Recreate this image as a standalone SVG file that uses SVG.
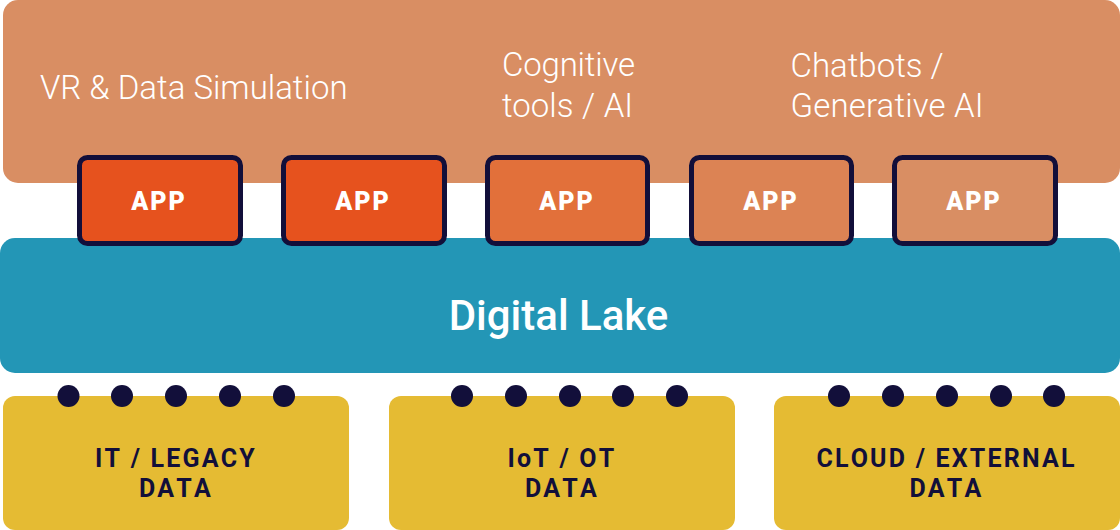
<svg xmlns="http://www.w3.org/2000/svg" width="1120" height="530" viewBox="0 0 1120 530">
<style>
.t{font-family:Roboto,"Liberation Sans",sans-serif;font-weight:300;font-size:33px;fill:#fff}
.a{stroke:#120f3a;stroke-width:5}
.at{font-family:Roboto,"Liberation Sans",sans-serif;font-weight:900;font-size:25px;letter-spacing:2px;fill:#fff;text-anchor:middle}
.s{fill:#e5bb33}
.st{font-family:Roboto,"Liberation Sans",sans-serif;font-weight:750;font-size:25px;letter-spacing:2.200px;font-kerning:none;fill:#120f3a;text-anchor:middle}
.d{fill:#120f3a}
</style>
<g id="top"><rect x="3" y="0" width="1117" height="183" rx="15" fill="#d98e63"/>
<text class="t" x="40" y="99">VR &amp; Data Simulation</text>
<text class="t" x="502" y="76" letter-spacing="-0.200">Cognitive</text><text class="t" x="502" y="116.500" word-spacing="0.500">tools / AI</text>
<text class="t" x="790.500" y="77">Chatbots /</text><text class="t" x="790.500" y="116.500" letter-spacing="0.150">Generative AI</text></g>
<g id="lake"><rect x="0" y="238" width="1120" height="135" rx="15" fill="#2396b6"/>
<text x="558.500" y="329.500" font-family="Roboto,'Liberation Sans',sans-serif" font-weight="500" font-size="42" fill="#fff" text-anchor="middle">Digital Lake</text></g>
<g id="app1"><rect class="a" x="79.500" y="157.500" width="161" height="86" rx="8" fill="#e6521e"/><text class="at" x="159" y="209.500">APP</text></g>
<g id="app2"><rect class="a" x="283.500" y="157.500" width="161" height="86" rx="8" fill="#e6521e"/><text class="at" x="363" y="209.500">APP</text></g>
<g id="app3"><rect class="a" x="487.500" y="157.500" width="160" height="86" rx="8" fill="#e2703a"/><text class="at" x="567" y="209.500">APP</text></g>
<g id="app4"><rect class="a" x="691.500" y="157.500" width="160" height="86" rx="8" fill="#dc8354"/><text class="at" x="771" y="209.500">APP</text></g>
<g id="app5"><rect class="a" x="894.500" y="157.500" width="161" height="86" rx="8" fill="#d98e63"/><text class="at" x="974" y="209.500">APP</text></g>
<g id="src1"><rect class="s" x="3" y="396" width="346" height="134" rx="12"/><text class="st" x="176" y="466.500">IT / LEGACY</text><text class="st" x="176" y="496.500">DATA</text>
<circle class="d" cx="68.500" cy="396" r="11"/><circle class="d" cx="122" cy="396" r="11"/><circle class="d" cx="176" cy="396" r="11"/><circle class="d" cx="230" cy="396" r="11"/><circle class="d" cx="284" cy="396" r="11"/></g>
<g id="src2"><rect class="s" x="389" y="396" width="346" height="134" rx="12"/><text class="st" x="562" y="466.500">IoT / OT</text><text class="st" x="562" y="496.500">DATA</text>
<circle class="d" cx="462" cy="396" r="11"/><circle class="d" cx="516" cy="396" r="11"/><circle class="d" cx="570" cy="396" r="11"/><circle class="d" cx="623" cy="396" r="11"/><circle class="d" cx="677" cy="396" r="11"/></g>
<g id="src3"><rect class="s" x="774" y="396" width="346" height="134" rx="12"/><text class="st" x="946.500" y="466.500">CLOUD / EXTERNAL</text><text class="st" x="946.500" y="496.500">DATA</text>
<circle class="d" cx="839" cy="396" r="11"/><circle class="d" cx="893" cy="396" r="11"/><circle class="d" cx="947" cy="396" r="11"/><circle class="d" cx="1001" cy="396" r="11"/><circle class="d" cx="1054" cy="396" r="11"/></g>
<g id="connectors"/>
</svg>
